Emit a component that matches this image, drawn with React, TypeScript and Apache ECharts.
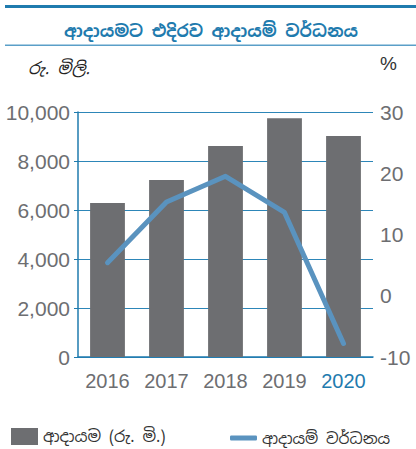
import React, { useEffect, useRef } from "react";
import * as echarts from "echarts";

const categories = ["2016", "2017", "2018", "2019", "2020"];
const revenue = [6290, 7220, 8610, 9750, 9020];
const growth = [5.4, 15.3, 19.5, 13.6, -7.8];
const leftTicks = { min: 0, max: 10000, interval: 2000 };
const rightTicks = { min: -10, max: 30, interval: 10 };
const titleText = "ආදායමට එදිරව ආදායම් වර්ධනය";
const leftUnit = "රු. මිලි.";
const rightUnit = "%";
const barName = "ආදායම (රු. මි.)";
const lineName = "ආදායම් වර්ධනය";

const BLUE = "#1f7bae";
const GRAY = "#6d6e71";
const LINE = "#5a93bf";
const SANS = "'Liberation Sans', Arial, Helvetica, sans-serif";
const SIN = "'Noto Sans Sinhala', 'Iskoola Pota', 'Noto Sans', sans-serif";

export default function App() {
  const ref = useRef<HTMLDivElement>(null);
  useEffect(() => {
    document.body.style.margin = "0";
    const chart = echarts.init(ref.current!, null, { renderer: "svg" });
    chart.setOption({
      animation: false,
      backgroundColor: "#ffffff",
      grid: { left: 78, right: 43, top: 112, bottom: 92 },
      legend: [
        {
          data: [barName],
          left: 6,
          top: 423,
          itemWidth: 27,
          itemHeight: 17,
          icon: "rect",
          textStyle: { fontSize: 16, color: "#333", fontFamily: SIN },
          itemGap: 8,
          selectedMode: false,
        },
        {
          data: [lineName],
          left: 225,
          top: 425,
          itemWidth: 27,
          itemHeight: 5,
          icon: "roundRect",
          textStyle: { fontSize: 15.5, color: "#333", fontFamily: SIN },
          selectedMode: false,
        },
      ],
      graphic: [
        { type: "rect", shape: { x: 5, y: 5, width: 411, height: 3 }, style: { fill: BLUE } },
        { type: "rect", shape: { x: 5, y: 44.5, width: 411, height: 1.5 }, style: { fill: "#5a9fc8" } },
        {
          type: "text",
          x: 211,
          y: 31,
          style: {
            text: titleText,
            fill: BLUE,
            fontSize: 17,
            fontWeight: "bold",
            fontFamily: SIN,
            align: "center",
            verticalAlign: "middle",
          },
        },
        {
          type: "text",
          x: 28,
          y: 68,
          style: {
            text: leftUnit,
            fill: "#222",
            fontSize: 16.5,
            fontStyle: "italic",
            fontFamily: SIN,
            verticalAlign: "middle",
          },
        },
        {
          type: "text",
          x: 380,
          y: 63,
          style: {
            text: rightUnit,
            fill: "#333",
            fontSize: 19,
            fontFamily: SANS,
            verticalAlign: "middle",
          },
        },
      ],
      xAxis: {
        type: "category",
        data: categories.map((c, i) =>
          i === categories.length - 1 ? { value: c, textStyle: { color: BLUE } } : c
        ),
        axisLine: { show: true, lineStyle: { color: BLUE, width: 1.5 } },
        axisTick: { show: false },
        axisLabel: { fontSize: 20, color: GRAY, fontFamily: SANS, margin: 14, interval: 0 },
      },
      yAxis: [
        {
          type: "value",
          ...leftTicks,
          axisLine: { show: true, lineStyle: { color: BLUE, width: 1.5 } },
          axisTick: { show: true, length: 4, lineStyle: { color: BLUE } },
          axisLabel: {
            fontSize: 21,
            color: GRAY,
            fontFamily: SANS,
            margin: 8,
            formatter: (v: number) => v.toLocaleString("en-US"),
          },
          splitLine: { show: true, lineStyle: { color: "#2d86b8", width: 1 } },
        },
        {
          type: "value",
          ...rightTicks,
          axisLine: { show: false },
          axisTick: { show: false },
          axisLabel: { fontSize: 21, color: GRAY, fontFamily: SANS, margin: 7 },
          splitLine: { show: false },
        },
      ],
      series: [
        {
          name: barName,
          type: "bar",
          data: revenue,
          barWidth: "59%",
          itemStyle: { color: GRAY },
          yAxisIndex: 0,
        },
        {
          name: lineName,
          type: "line",
          data: growth,
          yAxisIndex: 1,
          symbol: "none",
          lineStyle: { color: LINE, width: 5, cap: "round", join: "round" },
          itemStyle: { color: LINE },
        },
      ],
    });
    return () => chart.dispose();
  }, []);
  return <div ref={ref} style={{ width: 416, height: 449 }} />;
}
